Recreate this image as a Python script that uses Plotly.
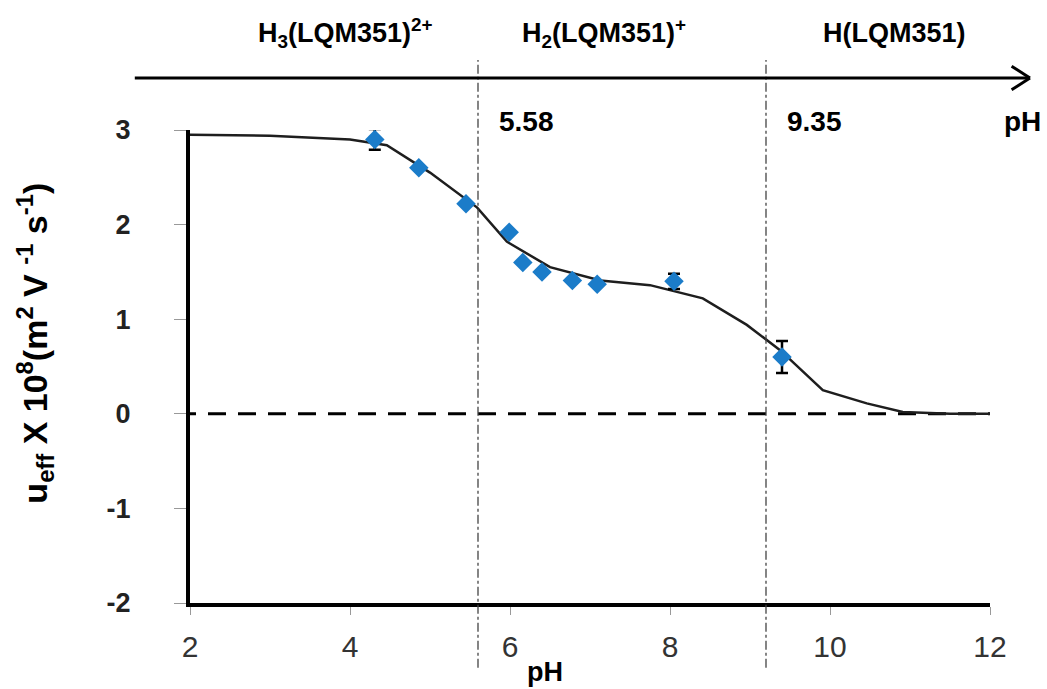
import plotly.graph_objects as go

# Fitted mobility curve (pH, u_eff x 1e8)
ph_fit = [2.0, 3.0, 4.0, 4.46, 5.0, 5.5, 5.59, 5.96, 6.5, 7.13, 7.75, 8.41, 8.96, 9.38, 9.91, 10.46, 10.91, 11.5, 12.0]
u_fit = [2.95, 2.94, 2.90, 2.84, 2.55, 2.23, 2.18, 1.82, 1.55, 1.41, 1.36, 1.22, 0.94, 0.67, 0.25, 0.11, 0.02, 0.0, 0.0]

# Experimental points
ph_data = [4.31, 4.86, 5.45, 5.99, 6.16, 6.40, 6.78, 7.09, 8.05, 9.40]
u_data = [2.90, 2.60, 2.22, 1.92, 1.60, 1.50, 1.41, 1.37, 1.40, 0.60]
u_err = [0.11, 0.0, 0.0, 0.0, 0.0, 0.0, 0.0, 0.0, 0.08, 0.17]

# pKa markers and labels
pka_lines = [5.6, 9.2]
pka_labels = ["5.58", "9.35"]
pka_label_x = [6.21, 9.81]
species = ["H<sub>3</sub>(LQM351)<sup>2+</sup>", "H<sub>2</sub>(LQM351)<sup>+</sup>", "H(LQM351)"]
species_x = [0.194, 0.518, 0.881]

x_ticks = [2, 4, 6, 8, 10, 12]
y_ticks = [-2, -1, 0, 1, 2, 3]
y_ticktext = ["<b>%d</b>" % v for v in y_ticks]

fig = go.Figure()

fig.add_trace(go.Scatter(
    x=ph_fit, y=u_fit, mode="lines",
    line=dict(color="#1e1e1e", width=2.5),
    showlegend=False, hoverinfo="skip"))

fig.add_trace(go.Scatter(
    x=ph_data, y=u_data, mode="markers",
    marker=dict(symbol="diamond", size=15, color="#1b7cc9"),
    error_y=dict(type="data", array=u_err, visible=True, color="black", thickness=2.5, width=6),
    showlegend=False))

shapes = []
# zero dashed line
shapes.append(dict(type="line", xref="x", yref="y", x0=1.85, x1=12, y0=0, y1=0,
                   line=dict(color="black", width=3, dash="18px,12px"), layer="below"))
# pKa dash-dot vertical lines
for p in pka_lines:
    shapes.append(dict(type="line", xref="x", yref="paper", x0=p, x1=p, y0=-0.137, y1=1.148,
                       line=dict(color="#444444", width=1.3, dash="dashdot")))
# top pH arrow
shapes.append(dict(type="line", xref="paper", yref="paper", x0=-0.069, x1=1.05, y0=1.1099, y1=1.1099,
                   line=dict(color="black", width=3)))
shapes.append(dict(type="line", xref="paper", yref="paper", x0=1.027, x1=1.05, y0=1.135, y1=1.1099,
                   line=dict(color="black", width=3)))
shapes.append(dict(type="line", xref="paper", yref="paper", x0=1.027, x1=1.05, y0=1.085, y1=1.1099,
                   line=dict(color="black", width=3)))

FONT = "Liberation Sans, Arial, sans-serif"
annotations = []
for s, sx in zip(species, species_x):
    annotations.append(dict(text="<b>" + s + "</b>", xref="paper", yref="paper", x=sx, y=1.205,
                            showarrow=False, xanchor="center", yanchor="middle",
                            font=dict(family=FONT, size=27, color="black")))
for lab, lx in zip(pka_labels, pka_label_x):
    annotations.append(dict(text="<b>" + lab + "</b>", xref="x", yref="paper", x=lx, y=1.019,
                            showarrow=False, xanchor="center", yanchor="middle",
                            font=dict(family=FONT, size=28, color="black")))
annotations.append(dict(text="<b>pH</b>", xref="paper", yref="paper", x=1.04, y=1.019, showarrow=False,
                        xanchor="center", yanchor="middle",
                        font=dict(family=FONT, size=28, color="black")))
annotations.append(dict(text="<b>pH</b>", xref="paper", yref="paper", x=0.444, y=-0.146, showarrow=False,
                        xanchor="center", yanchor="middle",
                        font=dict(family=FONT, size=27, color="black")))
annotations.append(dict(text="<b>u<sub>eff</sub> X 10<sup>8</sup>(m<sup>2</sup> V <sup>-1</sup> s<sup>-1</sup>)</b>",
                        xref="paper", yref="paper", x=-0.194, y=0.55, showarrow=False, textangle=-90,
                        xanchor="center", yanchor="middle",
                        font=dict(family=FONT, size=34, color="black")))

fig.update_layout(
    width=1047, height=689,
    margin=dict(l=190, r=57, t=130, b=86),
    paper_bgcolor="white", plot_bgcolor="white",
    shapes=shapes, annotations=annotations,
    xaxis=dict(range=[2, 12], tickvals=x_ticks, showgrid=False, zeroline=False,
               showline=True, linecolor="black", linewidth=4,
               ticks="outside", ticklen=8, tickcolor="#999999", tickwidth=1,
               tickfont=dict(family=FONT, size=30, color="#333333"),
               ticklabelstandoff=6),
    yaxis=dict(range=[-2, 3], tickvals=y_ticks, ticktext=y_ticktext, showgrid=False, zeroline=False,
               showline=True, linecolor="black", linewidth=4,
               ticks="outside", ticklen=12, tickcolor="#999999", tickwidth=1,
               tickfont=dict(family=FONT, size=27, color="#222222"),
               ticklabelstandoff=38),
)

fig.write_html("out.html", config={"displayModeBar": False},
               post_script="document.body.style.margin='0';")
